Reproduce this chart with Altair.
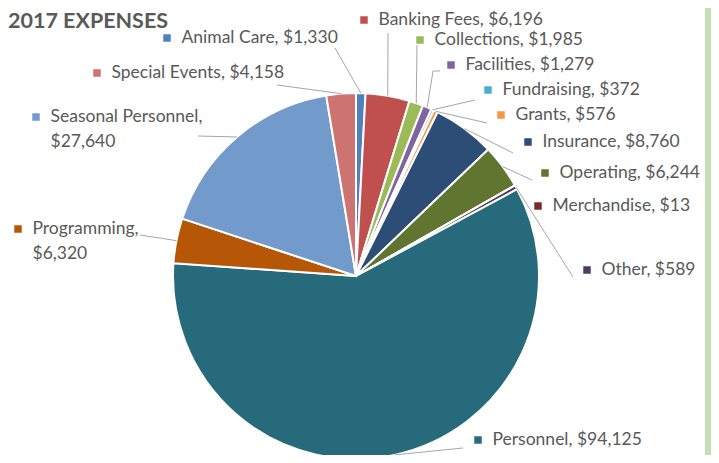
import altair as alt
import pandas as pd

# ---------------- data ----------------
categories = ["Animal Care", "Banking Fees", "Collections", "Facilities", "Fundraising",
              "Grants", "Insurance", "Operating", "Merchandise", "Other", "Personnel",
              "Programming", "Seasonal Personnel", "Special Events"]
values = [1330, 6196, 1985, 1279, 372, 576, 8760, 6244, 13, 589, 94125, 6320, 27640, 4158]
colors = ["#4F81BD", "#C0504D", "#9BBB59", "#8064A2", "#4BACC6", "#F79646", "#2C4D75",
          "#5F7530", "#772C2A", "#4D3B62", "#276A7C", "#B65708", "#729ACA", "#CD7371"]
wrapped = ["Seasonal Personnel", "Programming"]
title_text = "2017 EXPENSES"

# ---------------- layout (page pixels) ----------------
OFF = 8
W, H = 703, 447
CX, CY, R = 356 - OFF, 276 - OFF, 183
FONT = "Lato"
FS = 17.5
TXT = "#595959"

marker_pos = {
    "Animal Care": (167, 38), "Banking Fees": (364, 20), "Collections": (420, 40),
    "Facilities": (451, 65), "Fundraising": (488, 90), "Grants": (501, 115),
    "Insurance": (528, 142), "Operating": (545, 173), "Merchandise": (538, 206),
    "Other": (587, 270), "Personnel": (478, 440), "Programming": (18, 229),
    "Seasonal Personnel": (36, 117), "Special Events": (97, 73),
}
# leader start point and elbow (None = no leader line)
leader_pos = {
    "Animal Care": ((335, 48), (335, 48)), "Banking Fees": ((388, 33), (388, 33)),
    "Collections": ((417, 45), (417, 45)), "Facilities": ((440, 71), (433, 71)),
    "Fundraising": ((475, 100), (475, 100)), "Grants": ((487, 123), (487, 123)),
    "Insurance": ((513, 153), (513, 153)), "Operating": ((532, 180), (532, 180)),
    "Merchandise": None, "Other": ((573, 277), (573, 277)),
    "Personnel": ((463, 448), (463, 448)), "Programming": ((140, 235), (140, 235)),
    "Seasonal Personnel": ((198, 136), (198, 136)), "Special Events": ((277, 85), (277, 85)),
}
TEXT_DX = 14.5
LINE_H = 24.5

# ---------------- tables ----------------
df = pd.DataFrame({"category": categories, "value": values, "order": range(len(categories))})
df["mx"] = [marker_pos[c][0] - OFF for c in categories]
df["my"] = [marker_pos[c][1] - OFF for c in categories]
df["has_leader"] = [leader_pos[c] is not None for c in categories]
df["sx"] = [(leader_pos[c][0][0] - OFF) if leader_pos[c] else 0 for c in categories]
df["sy"] = [(leader_pos[c][0][1] - OFF) if leader_pos[c] else 0 for c in categories]
df["bx"] = [(leader_pos[c][1][0] - OFF) if leader_pos[c] else 0 for c in categories]
df["by"] = [(leader_pos[c][1][1] - OFF) if leader_pos[c] else 0 for c in categories]

rows = []
for c, v in zip(categories, values):
    mx, my = marker_pos[c][0] - OFF, marker_pos[c][1] - OFF
    money = "${:,}".format(v)
    if c in wrapped:
        rows.append({"tx": mx + TEXT_DX, "ty": my, "label": c + ","})
        rows.append({"tx": mx + TEXT_DX, "ty": my + LINE_H, "label": money})
    else:
        rows.append({"tx": mx + TEXT_DX, "ty": my, "label": c + ", " + money})
labels_df = pd.DataFrame(rows)

color_scale = alt.Scale(domain=categories, range=colors)
base = alt.Chart(df)

pie = base.mark_arc(radius=R, stroke="white", strokeWidth=2).encode(
    theta=alt.Theta("value:Q", stack=True),
    order=alt.Order("order:Q"),
    color=alt.Color("category:N", scale=color_scale, legend=None),
    x=alt.value(CX),
    y=alt.value(CY),
)

leader_base = base.transform_filter("datum.has_leader").transform_joinaggregate(
    total="sum(value)"
).transform_window(
    cum="sum(value)", sort=[alt.SortField("order")]
).transform_calculate(
    mid="(datum.cum - datum.value / 2) / datum.total * 2 * PI",
).transform_calculate(
    ex=f"{CX} + {R} * sin(datum.mid)",
    ey=f"{CY} - {R} * cos(datum.mid)",
)

leaders = leader_base.mark_rule(color="#A6A6A6", strokeWidth=1).encode(
    x=alt.X("bx:Q", scale=None, axis=None),
    y=alt.Y("by:Q", scale=None, axis=None),
    x2="ex:Q",
    y2="ey:Q",
)
elbows = leader_base.mark_rule(color="#A6A6A6", strokeWidth=1).encode(
    x=alt.X("sx:Q", scale=None, axis=None),
    y=alt.Y("sy:Q", scale=None, axis=None),
    x2="bx:Q",
    y2="by:Q",
)

markers = base.mark_square(size=56, opacity=1).encode(
    x=alt.X("mx:Q", scale=None, axis=None),
    y=alt.Y("my:Q", scale=None, axis=None),
    color=alt.Color("category:N", scale=color_scale, legend=None),
)

texts = alt.Chart(labels_df).mark_text(
    align="left", baseline="middle", font=FONT, fontSize=FS, color=TXT
).encode(
    x=alt.X("tx:Q", scale=None, axis=None),
    y=alt.Y("ty:Q", scale=None, axis=None),
    text="label:N",
)

title = alt.Chart(pd.DataFrame({"t": [title_text]})).mark_text(
    align="left", baseline="alphabetic", font=FONT, fontSize=21.5, fontWeight="bold", color=TXT
).encode(text="t:N", x=alt.value(0), y=alt.value(20))

green = alt.Chart(pd.DataFrame({"a": [0]})).mark_rect(color="#C5E0B4").encode(
    x=alt.value(705 - OFF), x2=alt.value(715 - OFF), y=alt.value(0), y2=alt.value(H)
)

chart = alt.layer(green, pie, leaders, elbows, markers, texts, title).properties(
    width=W, height=H, padding=0, autosize=alt.AutoSizeParams(type="none")
).configure_view(stroke=None)

chart.save("out.html", embed_options={"renderer": "svg", "actions": False})
